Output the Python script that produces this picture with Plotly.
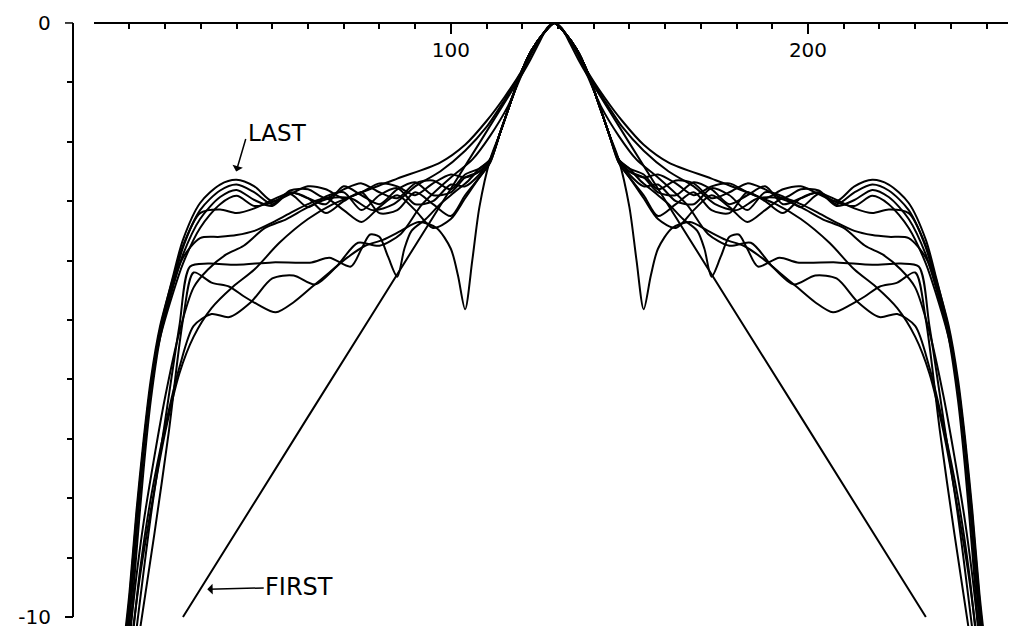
import plotly.graph_objects as go

# Response curves are symmetric about the centre bin; each list holds the
# left half (ascending x, ending at the peak) and is reflected for the right half.
CENTER = 129

first_x = [25, 60, 100, 120, 122, 125, 127, 129]
first_y = [-10.0, -6.63, -2.79, -0.86, -0.65, -0.3, -0.08, 0.0]

w1_x = [9, 11, 13, 16, 20, 24, 28, 33, 39, 45, 52, 60, 67, 75, 85, 97, 104, 110, 115, 120, 123, 126, 129]
w1_y = [-11.0, -10.2, -9.3, -8.2, -6.9, -5.9, -5.28, -4.8, -4.44, -4.15, -3.7, -3.3, -3.05, -2.85, -2.62,
        -2.35, -2.05, -1.65, -1.25, -0.79, -0.45, -0.17, 0.0]

w2_x = [10, 12, 14, 17, 20, 24, 28, 32, 37, 42, 48, 54, 60, 66, 72, 78, 84, 90, 97, 104, 110, 115, 120, 123, 126, 129]
w2_y = [-10.4, -9.3, -8.4, -7.3, -6.3, -5.2, -4.45, -4.15, -3.9, -3.75, -3.45, -3.3, -3.1, -2.95, -2.95,
        -3.15, -3.05, -2.75, -2.5, -2.15, -1.75, -1.3, -0.8, -0.45, -0.17, 0.0]

w3_x = [11, 13, 16, 20, 24, 28, 33, 38, 44, 50, 56, 62, 68, 74, 80, 86, 92, 100, 106, 111, 116, 120, 123, 126, 129]
w3_y = [-10.3, -9.2, -8.0, -6.8, -5.8, -5.1, -4.9, -4.95, -4.7, -4.3, -4.25, -4.4, -4.1, -3.7, -3.75, -3.55,
        -3.05, -2.6, -2.3, -1.9, -1.4, -0.85, -0.47, -0.18, 0.0]

n1_x = [13, 17, 21, 25, 28, 33, 38, 42, 46, 51, 56, 61, 66, 71, 76, 81, 86, 91, 96, 100, 102, 104, 106, 108,
        111, 113.8, 117, 120, 122.7, 126, 129]
n1_y = [-10.2, -8.6, -6.9, -5.0, -4.2, -4.37, -4.44, -4.6, -4.74, -4.87, -4.7, -4.45, -4.2, -3.95, -3.75,
        -3.65, -3.5, -3.35, -3.45, -3.8, -4.25, -4.82, -4.0, -3.1, -2.3, -1.85, -1.29, -0.79, -0.45, -0.17, 0.0]

n2_x = [12, 16, 20, 24, 27, 32, 40, 50, 61, 66, 72, 75, 77.4, 80, 82.4, 85, 87, 89, 93, 97, 101, 105, 108,
        111, 113.8, 117, 120, 122.7, 126, 129]
n2_y = [-10.2, -8.3, -6.7, -5.1, -4.1, -4.05, -4.07, -4.03, -4.03, -3.95, -4.1, -3.8, -3.56, -3.6, -3.93,
        -4.27, -3.8, -3.5, -3.3, -3.05, -2.85, -2.65, -2.45, -2.3, -1.85, -1.29, -0.79, -0.45, -0.17, 0.0]

# shared abscissae for the rippled family
r_x = [8, 10, 12, 14, 16, 18.6, 22.2, 25, 29.8, 35.4, 40, 45, 50, 55, 60, 65, 70, 75, 80, 85, 90, 95, 100,
       104, 108, 111, 113.8, 117, 120, 122.7, 126, 129]
last_y = [-11.3, -10.1, -8.6, -7.2, -6.1, -5.16, -4.27, -3.65, -3.03, -2.72, -2.64, -2.75, -3.0, -2.88, -2.75,
          -2.8, -2.95, -2.85, -2.7, -2.75, -2.9, -2.7, -2.55, -2.6, -2.5, -2.3, -1.85, -1.29, -0.79, -0.45, -0.17, 0.0]
r2_y = [-11.6, -10.4, -8.9, -7.5, -6.35, -5.3, -4.4, -3.78, -3.15, -2.82, -2.72, -2.85, -3.05, -2.82, -2.8,
        -2.95, -2.8, -2.7, -2.85, -2.95, -2.7, -2.65, -2.8, -2.55, -2.45, -2.3, -1.85, -1.29, -0.79, -0.45, -0.17, 0.0]
r3_y = [-11.0, -9.9, -8.5, -7.2, -6.15, -5.25, -4.45, -3.9, -3.3, -2.93, -2.81, -2.98, -3.08, -2.85, -2.95,
        -3.05, -2.75, -2.9, -3.05, -2.8, -2.68, -2.9, -2.85, -2.6, -2.5, -2.3, -1.85, -1.29, -0.79, -0.45, -0.17, 0.0]
r4_y = [-10.9, -9.8, -8.4, -7.1, -6.1, -5.3, -4.55, -4.05, -3.45, -3.05, -2.91, -3.08, -3.02, -2.88, -3.1,
        -2.92, -2.85, -3.15, -2.9, -2.78, -3.05, -3.0, -2.72, -2.75, -2.55, -2.3, -1.85, -1.29, -0.79, -0.45, -0.17, 0.0]
r5_y = [-10.7, -9.6, -8.2, -7.0, -6.0, -5.1, -4.3, -3.75, -3.2, -3.14, -3.2, -3.12, -2.98, -2.86, -2.95,
        -3.2, -3.0, -2.85, -3.2, -3.15, -2.85, -3.05, -3.25, -2.9, -2.6, -2.35, -1.85, -1.29, -0.79, -0.45, -0.17, 0.0]
r6_y = [-10.8, -9.7, -8.3, -7.1, -6.1, -5.2, -4.4, -3.95, -3.62, -3.6, -3.57, -3.5, -3.36, -3.2, -3.05,
        -2.95, -3.15, -3.35, -3.1, -2.9, -3.15, -3.45, -3.3, -2.95, -2.6, -2.35, -1.85, -1.29, -0.79, -0.45, -0.17, 0.0]

curves = [
    (first_x, first_y), (w1_x, w1_y), (w2_x, w2_y), (w3_x, w3_y), (n1_x, n1_y), (n2_x, n2_y),
    (r_x, r6_y), (r_x, r5_y), (r_x, r4_y), (r_x, r3_y), (r_x, r2_y), (r_x, last_y),
]

x_ticks = [100, 200]
x_labels = ["100", "200"]
y_top_label = "0"
y_bottom_label = "-10"


def reflect(xs, ys):
    fx = list(xs) + [2 * CENTER - v for v in reversed(xs[:-1])]
    fy = list(ys) + list(reversed(ys[:-1]))
    return fx, fy


fig = go.Figure()
for xs, ys in curves:
    fx, fy = reflect(xs, ys)
    fig.add_trace(go.Scatter(x=fx, y=fy, mode="lines",
                             line=dict(color="black", width=2, shape="spline", smoothing=0.8),
                             hoverinfo="skip", showlegend=False))

font = dict(family="DejaVu Sans", size=20, color="black")
Y_TOP = 0.05
Y_BOT = -10.15
PLOT_W = 1009 - 73 - 1
TICK_FRAC = 8 / PLOT_W

fig.update_layout(
    width=1009, height=636,
    margin=dict(l=73, r=1, t=20, b=10),
    paper_bgcolor="white", plot_bgcolor="white",
    xaxis=dict(range=[0, 256], domain=[0.0221, 1], side="top",
               anchor="free", position=(0 - Y_BOT) / (Y_TOP - Y_BOT),
               showline=True, linecolor="black", linewidth=2,
               showgrid=False, zeroline=False,
               tickvals=x_ticks, ticktext=x_labels,
               ticks="inside", ticklen=10, tickwidth=1.5, tickcolor="black",
               ticklabelposition="inside", ticklabelstandoff=10, tickfont=font,
               minor=dict(dtick=10, tick0=0, ticks="inside", ticklen=5, tickwidth=1.5, tickcolor="black")),
    yaxis=dict(range=[Y_BOT, Y_TOP], anchor="free", position=0,
               showline=False,
               showgrid=False, zeroline=False,
               tickvals=[-10], ticktext=[y_bottom_label],
               ticks="outside", ticklen=8, tickwidth=1.5, tickcolor="black",
               tickfont=font, ticklabelstandoff=10,
               minor=dict(dtick=1, tick0=0, ticks="outside", ticklen=6, tickwidth=1.5, tickcolor="black")),
    shapes=[
        # vertical axis spine from 0 down to -10
        dict(type="line", xref="paper", yref="y", x0=0, x1=0, y0=0, y1=-10,
             line=dict(color="black", width=2)),
        # major tick at 0
        dict(type="line", xref="paper", yref="y", x0=-TICK_FRAC, x1=0, y0=0, y1=0,
             line=dict(color="black", width=1.5)),
    ],
    annotations=[
        dict(x=0, y=0, xref="paper", yref="y", text=y_top_label, showarrow=False,
             xanchor="right", yanchor="middle", xshift=-20, font=font),
        dict(x=39.9, y=-2.5, xref="x", yref="y", text="", showarrow=True,
             ax=10, ay=-34, arrowhead=1, arrowsize=1.2, arrowwidth=1.5, arrowcolor="black"),
        dict(x=51.6, y=-1.85, xref="x", yref="y", text="LAST", showarrow=False,
             font=dict(family="DejaVu Sans", size=23, color="black")),
        dict(x=31.8, y=-9.53, xref="x", yref="y", text="FIRST", showarrow=True,
             ax=92, ay=-2, arrowhead=1, arrowsize=1.2, arrowwidth=1.5, arrowcolor="black",
             font=dict(family="DejaVu Sans", size=24, color="black")),
    ],
)

fig.write_html("out.html")
